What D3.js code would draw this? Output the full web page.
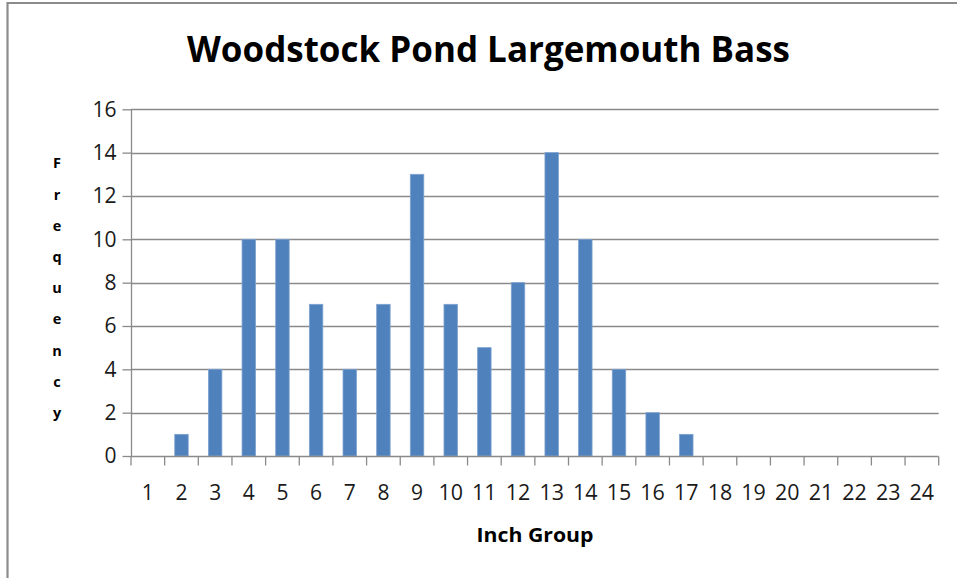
<!DOCTYPE html>
<html>
<head>
<meta charset="utf-8">
<script src="https://cdn.jsdelivr.net/npm/d3@7"></script>
<style>
  html, body { margin: 0; padding: 0; background: #fff; }
  svg { display: block; }
</style>
</head>
<body>
<svg id="chart" width="957" height="578"></svg>
<script>
const categories = ["1","2","3","4","5","6","7","8","9","10","11","12","13","14","15","16","17","18","19","20","21","22","23","24"];
const frequency = [0,1,4,10,10,7,4,7,13,7,5,8,14,10,4,2,1,0,0,0,0,0,0,0];
const yTicks = [0,2,4,6,8,10,12,14,16];
const title = "Woodstock Pond Largemouth Bass";
const xTitle = "Inch Group";
const yTitle = "Frequency";

(function () {
const svg = d3.select("#chart");
const W = 957, H = 578;
const pLeft = 131, pRight = 938.7, pTop = 109.3, pBottom = 456;
const font = "'Open Sans', 'Liberation Sans', sans-serif";
const axisColor = "#8a8a8a";

// frame
svg.append("path")
  .attr("d", `M7.5,${H} L7.5,3 L${W},3`)
  .attr("fill", "none").attr("stroke", "#8c8c8c").attr("stroke-width", 2.2);

const xEdge = d3.scaleBand().domain(categories).range([pLeft, pRight]).padding(0);
const y = d3.scaleLinear().domain([0, 16]).range([pBottom, pTop]);

// gridlines
svg.append("g").selectAll("line").data(yTicks.filter(d => d > 0)).join("line")
  .attr("x1", pLeft).attr("x2", pRight)
  .attr("y1", d => Math.round(y(d)) + 0.5).attr("y2", d => Math.round(y(d)) + 0.5)
  .attr("stroke", axisColor).attr("stroke-width", 1.3);

// bars
svg.append("g").selectAll("rect")
  .data(frequency.map((v, i) => ({c: categories[i], v})).filter(d => d.v > 0))
  .join("rect")
  .attr("x", d => xEdge(d.c) + xEdge.bandwidth() * 0.3)
  .attr("width", xEdge.bandwidth() * 0.4)
  .attr("y", d => y(d.v))
  .attr("height", d => pBottom - y(d.v))
  .attr("fill", "#4f81bd")
  .attr("stroke", "#7ea2d0").attr("stroke-width", 0.8);

// y axis
const yAxis = d3.axisLeft(y).tickValues(yTicks).tickSize(9).tickPadding(6).tickFormat(d3.format("d"));
const gy = svg.append("g").attr("transform", `translate(${pLeft + 0.5},0)`).call(yAxis);
gy.select(".domain").attr("stroke", axisColor).attr("stroke-width", 1.3).attr("d", `M0,${pTop}V${pBottom}`);
gy.selectAll(".tick line").attr("stroke", axisColor).attr("stroke-width", 1.3);
gy.selectAll(".tick text").attr("font-family", font).attr("font-size", 21).attr("fill", "#1a1a1a");

// x axis
const gx = svg.append("g").attr("transform", `translate(0,${pBottom + 0.5})`);
gx.append("line").attr("x1", pLeft).attr("x2", pRight).attr("y1", 0).attr("y2", 0)
  .attr("stroke", axisColor).attr("stroke-width", 1.3);
const edges = categories.map(c => xEdge(c)).concat([pRight]);
gx.selectAll("line.t").data(edges).join("line").attr("class", "t")
  .attr("x1", d => d).attr("x2", d => d).attr("y1", 0).attr("y2", 9)
  .attr("stroke", axisColor).attr("stroke-width", 1.3);
gx.selectAll("text").data(categories).join("text")
  .attr("x", d => xEdge(d) + xEdge.bandwidth() / 2)
  .attr("y", 43.5)
  .attr("text-anchor", "middle")
  .attr("font-family", font).attr("font-size", 21).attr("fill", "#1a1a1a")
  .attr("textLength", d => d.length > 1 ? 24.5 : null)
  .attr("lengthAdjust", "spacingAndGlyphs")
  .text(d => d);

// title
svg.append("text").attr("x", 488.5).attr("y", 62)
  .attr("text-anchor", "middle")
  .attr("font-family", font).attr("font-weight", "bold").attr("font-size", 35)
  .attr("textLength", 603).attr("lengthAdjust", "spacingAndGlyphs")
  .attr("fill", "#000").text(title);

// x title
svg.append("text").attr("x", 535).attr("y", 541.5)
  .attr("text-anchor", "middle")
  .attr("font-family", font).attr("font-weight", "bold").attr("font-size", 19)
  .attr("textLength", 117).attr("lengthAdjust", "spacingAndGlyphs")
  .attr("fill", "#000").text(xTitle);

// y title, stacked letters
svg.append("g").selectAll("text").data(yTitle.split("")).join("text")
  .attr("x", 57).attr("y", (d, i) => 168.3 + i * 31.2)
  .attr("text-anchor", "middle")
  .attr("font-family", font).attr("font-weight", "bold").attr("font-size", 14.5)
  .attr("fill", "#000").text(d => d);
})();
</script>
</body>
</html>
